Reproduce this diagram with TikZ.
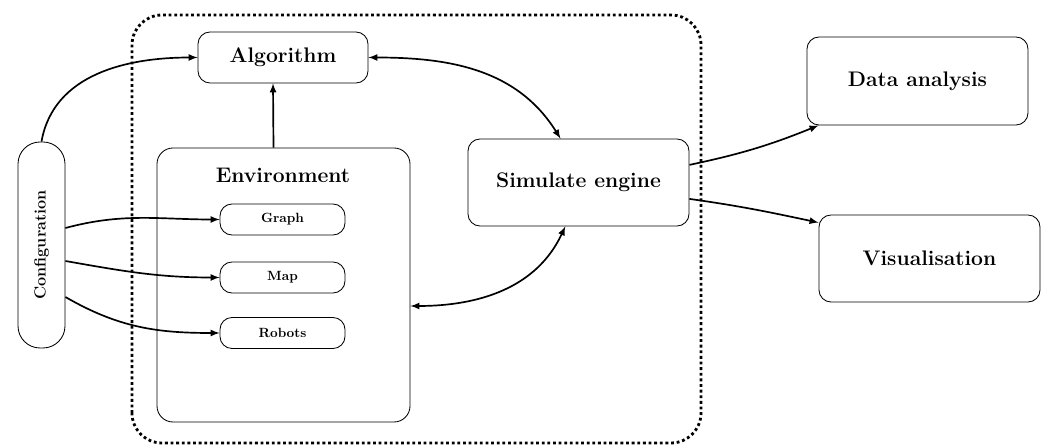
\documentclass[tikz,border=0pt]{standalone}
\usetikzlibrary{arrows}

\begin{document}
\begin{tikzpicture}[font=\bfseries]
\tikzstyle{block} = [draw,semithick,rounded corners=0.3cm,align=center,inner sep=0pt]
\tikzstyle{bigtext} = [font=\fontsize{15}{18}\selectfont\bfseries]
\tikzstyle{smalltext} = [font=\fontsize{9.5}{11}\selectfont\bfseries]
\tikzstyle{link} = [line width=1.2pt,arrows=-latex]
\tikzstyle{dlink} = [line width=1.2pt,arrows=latex-latex]
\useasboundingbox (0,0) rectangle (26.025,11.2);

% dotted frame
\draw[line width=2pt,dotted,rounded corners=0.75cm] (3.3,0.125) rectangle (17.525,10.825);

\node[block,bigtext,minimum width=4.25cm,minimum height=1.275cm] (alg) at (7.075,9.7625) {Algorithm};
\node[block,rounded corners=0.4cm,minimum width=6.325cm,minimum height=6.85cm] (env) at (7.0875,4.075) {};
\node[bigtext] (envlabel) at (7.075,6.825) {Environment};
\node[block,smalltext,minimum width=3.125cm,minimum height=0.775cm] (graph) at (7.0625,5.7125) {Graph};
\node[block,smalltext,minimum width=3.125cm,minimum height=0.775cm] (map) at (7.0625,4.2625) {Map};
\node[block,smalltext,minimum width=3.125cm,minimum height=0.775cm] (robots) at (7.0625,2.875) {Robots};
\node[block,rounded corners=0.55cm,minimum width=1.175cm,minimum height=5.15cm] (config) at (1.0375,5.075) {};
\node[font=\fontsize{11.5}{13}\selectfont\bfseries,rotate=90] (configlabel) at (config.center) {Configuration};
\node[block,bigtext,minimum width=5.525cm,minimum height=2.175cm] (sim) at (14.4625,6.6375) {Simulate engine};
\node[block,bigtext,minimum width=5.525cm,minimum height=2.2cm] (data) at (22.9375,9.175) {Data analysis};
\node[block,bigtext,minimum width=5.525cm,minimum height=2.175cm] (vis) at (23.2375,4.7375) {Visualisation};

\draw[link] (config.north) to[out=80,in=180] (alg.west);
\draw[dlink] (alg.east) to[out=0,in=122] ([xshift=-0.45cm]sim.north);
\draw[link] ([xshift=-0.25cm]env.north) -- ([xshift=-0.25cm]alg.south);
\draw[link] ([yshift=0.425cm]config.east) to[out=15,in=180] (graph.west);
\draw[link] ([yshift=-0.4cm]config.east) to[out=-10,in=180] (map.west);
\draw[link] ([yshift=-1.3cm]config.east) to[out=-30,in=180] (robots.west);
\draw[dlink] ([xshift=-0.33cm]sim.south) to[out=245,in=0] ([yshift=-0.525cm]env.east);
\draw[link] ([yshift=0.44cm]sim.east) to[out=12,in=202] ([xshift=0.3cm]data.south west);
\draw[link] ([yshift=-0.41cm]sim.east) to[out=-8,in=168] ([yshift=-0.2cm]vis.north west);
\end{tikzpicture}
\end{document}
